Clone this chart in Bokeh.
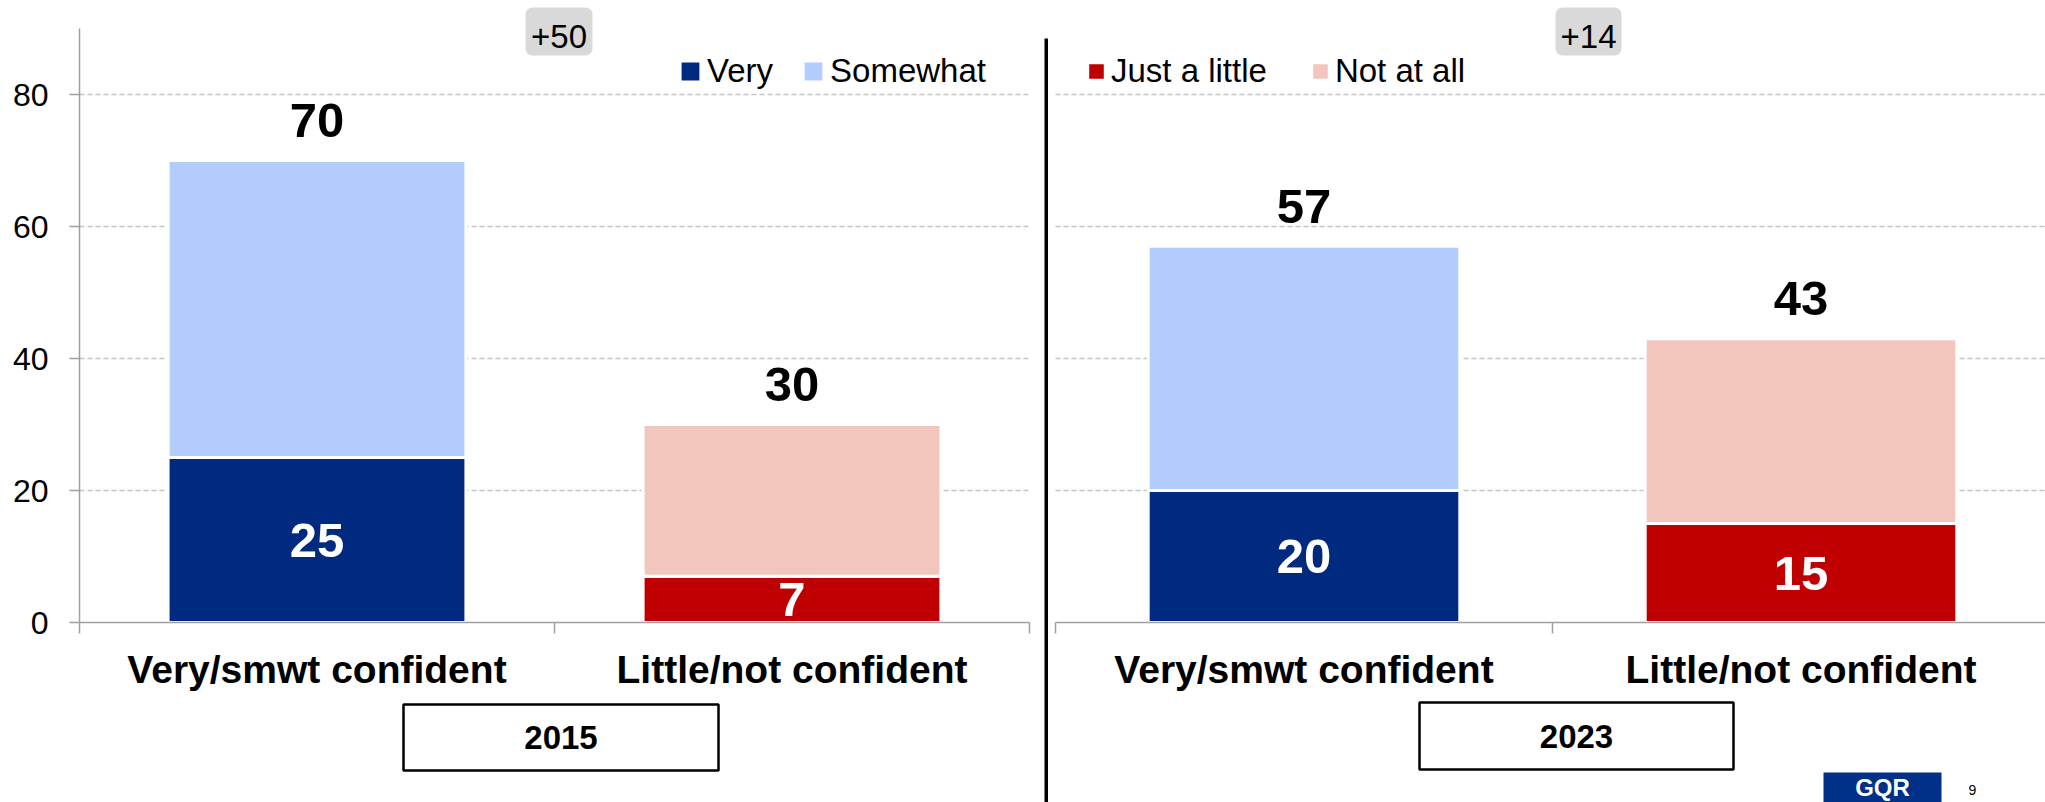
from bokeh.plotting import figure
from bokeh.models import (Range1d, FixedTicker, Legend, LegendItem, Label, LinearAxis, Grid,
                          BoxAnnotation, ColumnDataSource)
from bokeh.layouts import row
from bokeh.embed import file_html
from bokeh.resources import INLINE
from bokeh.core.properties import value

# ---------------- data ----------------
categories = ["Very/smwt confident", "Little/not confident"]
years = ["2015", "2023"]
diffs = ["+50", "+14"]
very = [25, 20]
somewhat = [45, 37]
just_a_little = [7, 15]
not_at_all = [23, 28]
y_ticks = [0, 20, 40, 60, 80]
grid_ticks = [20, 40, 60, 80]
legend_left = ["Very", "Somewhat"]
legend_right = ["Just a little", "Not at all"]
page_number = "9"
logo_text = "GQR"

# ---------------- style / layout (pixels) ----------------
C_VERY = "#002A7F"
C_SOME = "#B2CCFE"
C_JUST = "#C00000"
C_NOT = "#F2C6BD"
AXIS_C = "#A0A0A0"
GRID_C = "#C4C4C4"
FONT = "Liberation Sans"

FIG_H = 802
TOP = 28          # pixel y of value 90 (top of the y axis)
AXIS_Y = 622      # pixel y of value 0
Y_MAX = 90
PX_PER_UNIT = (AXIS_Y - TOP) / Y_MAX
BAR_W = 0.627
LABEL_GAP_PX = 40   # distance from bar top to centre of the total label


def make_panel(i, fig_x0, fig_x1, frame_x0, cat_px, show_y):
    def dx(rx):
        return (rx - frame_x0) / cat_px

    def dy(ry):
        return (AXIS_Y - ry) / PX_PER_UNIT

    p = figure(width=fig_x1 - fig_x0, height=FIG_H,
               x_range=Range1d(dx(fig_x0), dx(fig_x1)), y_range=Range1d(dy(FIG_H), dy(0)),
               output_backend="svg", toolbar_location=None,
               x_axis_location=None, y_axis_location=None, min_border=0)
    p.outline_line_color = None
    p.background_fill_color = "white"
    p.border_fill_color = "white"
    p.xgrid.visible = False
    p.ygrid.visible = False

    n = len(categories)
    gkw = dict(dimension=1, ticker=FixedTicker(ticks=grid_ticks), grid_line_color=GRID_C,
               grid_line_dash="5 3", grid_line_width=1.5)
    if "cross_bounds" in Grid.properties():
        p.add_layout(Grid(cross_bounds=(0, n), **gkw))
    else:
        p.segment(x0=[0] * len(grid_ticks), x1=[n] * len(grid_ticks), y0=grid_ticks,
                  y1=grid_ticks, line_color=GRID_C, line_dash="5 3", line_width=1.5)

    lower = [very[i], just_a_little[i]]
    upper = [very[i] + somewhat[i], just_a_little[i] + not_at_all[i]]
    src = ColumnDataSource(dict(
        x=[k + 0.5 for k in range(n)],
        lower=lower, upper=upper,
        mid=[v / 2 for v in lower],
        top_lbl_y=[v + LABEL_GAP_PX / PX_PER_UNIT for v in upper],
        lower_color=[C_VERY, C_JUST], upper_color=[C_SOME, C_NOT],
        lower_lbl=[str(v) for v in lower], total_lbl=[str(v) for v in upper],
    ))
    r_low = p.vbar(x="x", width=BAR_W, bottom=0, top="lower", fill_color="lower_color",
                   line_color="white", line_width=3, source=src)
    r_up = p.vbar(x="x", width=BAR_W, bottom="lower", top="upper", fill_color="upper_color",
                  line_color="white", line_width=3, source=src)

    p.text(x="x", y="top_lbl_y", text="total_lbl", text_align="center",
           text_baseline="middle", text_font=value(FONT), text_font_style="bold",
           text_font_size="49px", text_color="black", source=src)
    p.text(x="x", y="mid", text="lower_lbl", text_align="center", text_baseline="middle",
           text_font=value(FONT), text_font_style="bold", text_font_size="49px",
           text_color="white", source=src)

    # x axis at value 0: category labels at centers, boundary ticks as minor ticks
    xa = LinearAxis(fixed_location=0, bounds=(0, n))
    xa.ticker = FixedTicker(ticks=[k + 0.5 for k in range(n)], minor_ticks=list(range(n + 1)))
    xa.major_label_overrides = {k + 0.5: c for k, c in enumerate(categories)}
    xa.major_tick_line_color = None
    xa.major_tick_out = 0
    xa.major_tick_in = 0
    xa.minor_tick_line_color = AXIS_C
    xa.minor_tick_line_width = 1.5
    xa.minor_tick_out = 11
    xa.minor_tick_in = 0
    xa.axis_line_color = AXIS_C
    xa.axis_line_width = 1.5
    xa.major_label_text_font = FONT
    xa.major_label_text_font_style = "bold"
    xa.major_label_text_font_size = "39px"
    xa.major_label_text_color = "black"
    xa.major_label_standoff = 14
    p.add_layout(xa, "below")

    if show_y:
        ya = LinearAxis(fixed_location=0, bounds=(0, Y_MAX))
        ya.ticker = FixedTicker(ticks=y_ticks)
        ya.major_tick_out = 10
        ya.major_tick_in = 0
        ya.major_tick_line_color = AXIS_C
        ya.major_tick_line_width = 1.5
        ya.minor_tick_line_color = None
        ya.axis_line_color = AXIS_C
        ya.axis_line_width = 1.5
        ya.major_label_text_font = FONT
        ya.major_label_text_font_size = "32px"
        ya.major_label_text_color = "black"
        ya.major_label_standoff = 21
        p.add_layout(ya, "left")

    return p, r_low, r_up, dx, dy


# ---------------- left panel (2015) and right panel (2023) ----------------
pL, lowL, upL, dxL, dyL = make_panel(0, 0, 1048, 79, 475, True)
pR, lowR, upR, dxR, dyR = make_panel(1, 1048, 2045, 1055, 497, False)

legL = Legend(items=[LegendItem(label=legend_left[0], renderers=[lowL], index=0),
                     LegendItem(label=legend_left[1], renderers=[upL], index=0)],
              orientation="horizontal", location=(677, 712), spacing=27,
              glyph_width=26, glyph_height=26, label_standoff=4, padding=0, margin=0,
              border_line_color=None, background_fill_alpha=0,
              label_text_font=FONT, label_text_font_size="33px", label_text_color="black")
pL.add_layout(legL)

legR = Legend(items=[LegendItem(label=legend_right[0], renderers=[lowR], index=1),
                     LegendItem(label=legend_right[1], renderers=[upR], index=1)],
              orientation="horizontal", location=(37, 712), spacing=42,
              glyph_width=22, glyph_height=22, label_standoff=4, padding=0, margin=0,
              border_line_color=None, background_fill_alpha=0,
              label_text_font=FONT, label_text_font_size="33px", label_text_color="black")
pR.add_layout(legR)


def add_boxes(p, dx, dy, i, diff_box, year_box):
    l, r, t, b = diff_box
    p.add_layout(BoxAnnotation(left=dx(l), right=dx(r), top=dy(t), bottom=dy(b),
                               fill_color="#D9D9D9", fill_alpha=1, line_color=None,
                               border_radius=7))
    p.add_layout(Label(x=dx((l + r) / 2), y=dy(36), text=diffs[i], text_align="center",
                       text_baseline="middle", text_font=FONT, text_font_size="33px",
                       text_color="black"))
    l, r, t, b = year_box
    p.add_layout(BoxAnnotation(left=dx(l), right=dx(r), top=dy(t), bottom=dy(b),
                               fill_color="white", fill_alpha=1, line_color="black",
                               line_alpha=1, line_width=2.5))
    p.add_layout(Label(x=dx((l + r) / 2), y=dy((t + b) / 2), text=years[i],
                       text_align="center", text_baseline="middle", text_font=FONT,
                       text_font_style="bold", text_font_size="33px", text_color="black"))


add_boxes(pL, dxL, dyL, 0, (525, 592, 7, 55), (403, 718, 704, 770))
add_boxes(pR, dxR, dyR, 1, (1555, 1621, 7, 55), (1419, 1733, 702, 769))

# vertical divider between the two years
pL.add_layout(BoxAnnotation(left=dxL(1044), right=dxL(1048), top=dyL(38), bottom=dyL(815),
                            fill_color="black", fill_alpha=1, line_color=None))

# logo and page number (bottom right, partly cut off in the original)
pR.add_layout(BoxAnnotation(left=dxR(1823), right=dxR(1941), top=dyR(772), bottom=dyR(830),
                            fill_color="#003087", fill_alpha=1, line_color=None))
pR.add_layout(Label(x=dxR(1882), y=dyR(787), text=logo_text, text_align="center",
                    text_baseline="middle", text_font=FONT, text_font_style="bold",
                    text_font_size="24px", text_color="white"))
pR.add_layout(Label(x=dxR(1968), y=dyR(789), text=page_number, text_align="left",
                    text_baseline="middle", text_font=FONT, text_font_size="14px",
                    text_color="black"))

layout = row(pL, pR, spacing=0)
open("out.html", "w").write(file_html(layout, INLINE))
